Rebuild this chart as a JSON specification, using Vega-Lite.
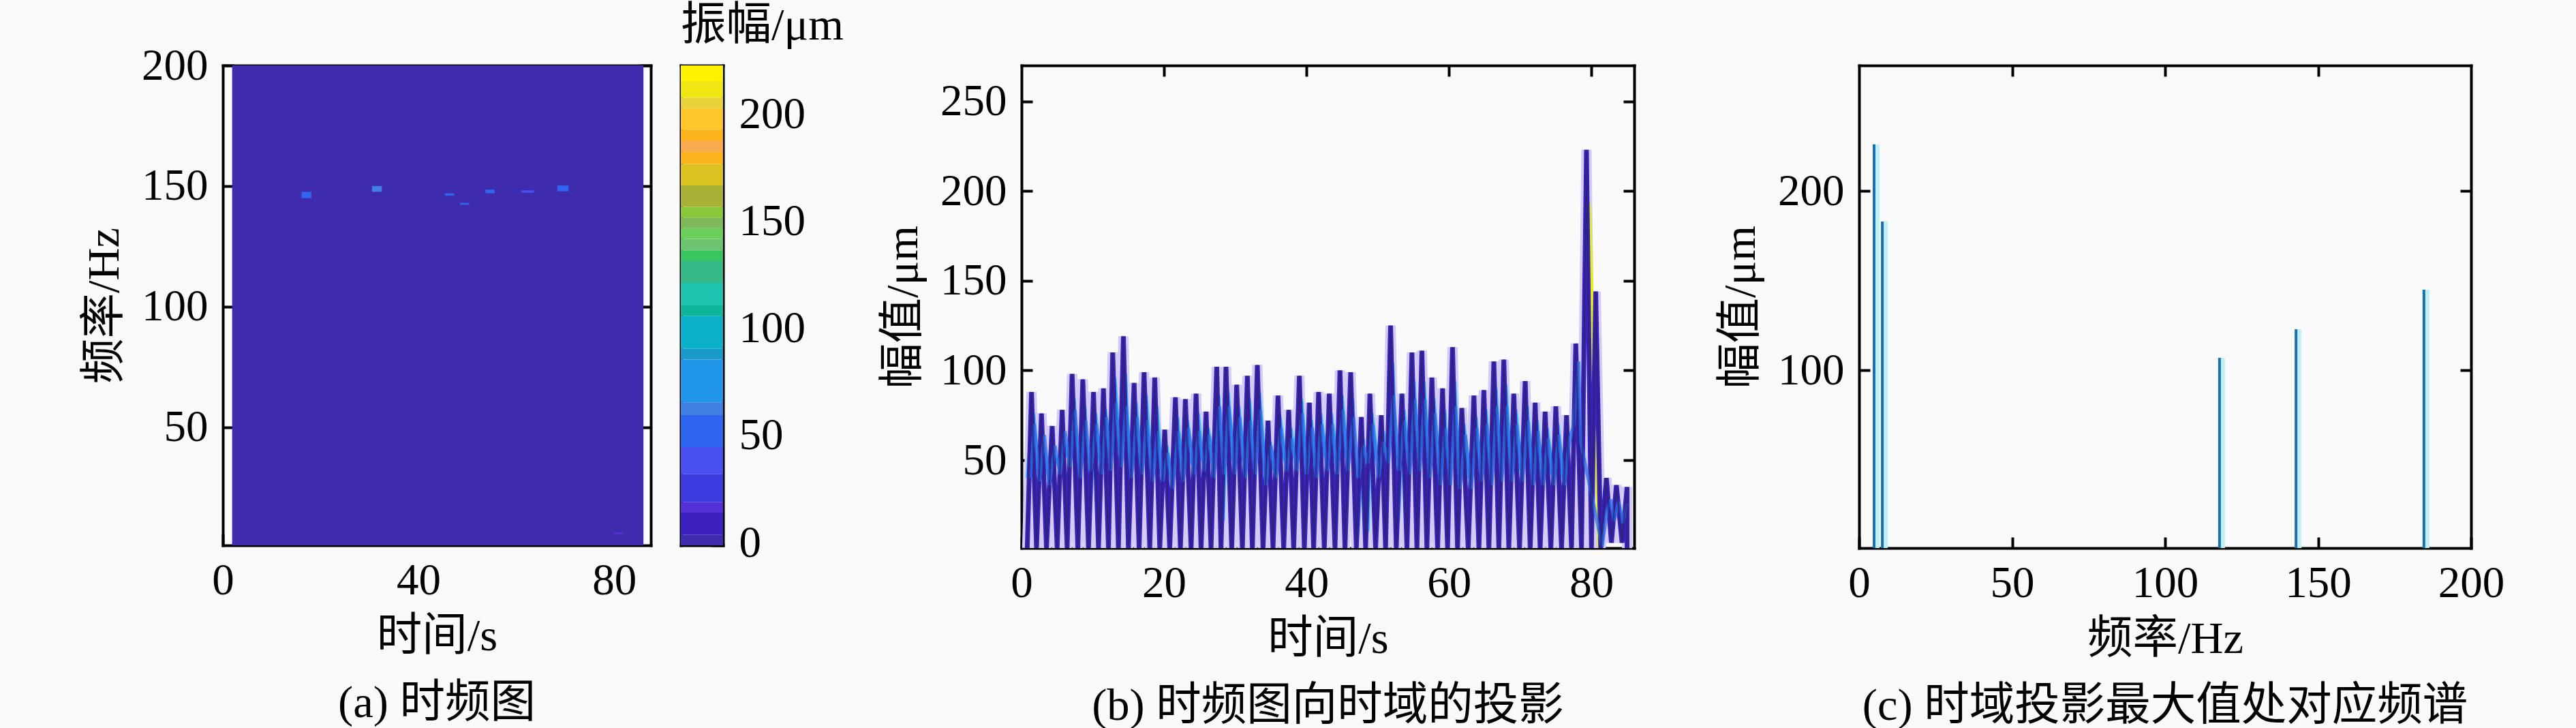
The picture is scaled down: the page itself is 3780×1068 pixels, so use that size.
{"$schema":"https://vega.github.io/schema/vega-lite/v6.json","background":"#fafafa","padding":{"left":120,"top":4,"right":170,"bottom":40},"bounds":"flush","spacing":44,"config":{"view":{"stroke":null},"axis":{"grid":false,"domainColor":"#000","domainWidth":4,"domainCap":"square","tickColor":"#000","tickWidth":4,"tickSize":-16,"labelFont":"Liberation Serif","labelFontSize":65,"labelColor":"#000","labelFlush":false,"labelOverlap":false,"labelBound":false,"titleFont":"Liberation Serif, Noto Sans CJK SC","titleFontSize":66.5,"titleFontWeight":"normal","titleColor":"#000","zindex":1},"title":{"font":"Liberation Serif, Noto Sans CJK SC","fontSize":66.5,"fontWeight":"normal","color":"#000"}},"datasets":{"cells":[{"t0":1.9,"t1":86,"f0":1,"f1":200,"amp":2},{"t0":16.1,"t1":18.1,"f0":145,"f1":147.6,"amp":46},{"t0":30.5,"t1":32.5,"f0":147.6,"f1":150,"amp":64},{"t0":45.4,"t1":47.3,"f0":146,"f1":147,"amp":46},{"t0":48.5,"t1":50.4,"f0":142.2,"f1":143,"amp":46},{"t0":53.7,"t1":55.6,"f0":147,"f1":148.5,"amp":46},{"t0":61,"t1":63.6,"f0":147.2,"f1":148.2,"amp":40},{"t0":68.4,"t1":70.7,"f0":147.8,"f1":150.2,"amp":55},{"t0":79.9,"t1":81.8,"f0":5.6,"f1":6.4,"amp":18}],"bar":[{"lo":0,"hi":5},{"lo":5,"hi":15.3},{"lo":15.3,"hi":20.3},{"lo":20.3,"hi":33.3},{"lo":33.3,"hi":45.8},{"lo":45.8,"hi":60.8},{"lo":60.8,"hi":66.7},{"lo":66.7,"hi":86.7},{"lo":86.7,"hi":91.7},{"lo":91.7,"hi":107},{"lo":107,"hi":112},{"lo":112,"hi":122.5},{"lo":122.5,"hi":132.7},{"lo":132.7,"hi":137.7},{"lo":137.7,"hi":143},{"lo":143,"hi":148},{"lo":148,"hi":153},{"lo":153,"hi":158},{"lo":158,"hi":168},{"lo":168,"hi":178},{"lo":178,"hi":183.7},{"lo":183.7,"hi":188.7},{"lo":188.7,"hi":194},{"lo":194,"hi":204},{"lo":204,"hi":209},{"lo":209,"hi":216.7},{"lo":216.7,"hi":224}],"main":[{"t":0.8,"a":1},{"t":1.4,"a":88},{"t":2.1,"a":1},{"t":2.8,"a":76},{"t":3.5,"a":1},{"t":4.3,"a":69},{"t":5,"a":1},{"t":5.7,"a":78},{"t":6.4,"a":1},{"t":7.1,"a":98},{"t":7.9,"a":1},{"t":8.6,"a":95},{"t":9.4,"a":1},{"t":10.1,"a":88},{"t":10.8,"a":1},{"t":11.5,"a":90},{"t":12.2,"a":1},{"t":12.8,"a":110},{"t":13.6,"a":1},{"t":14.3,"a":119},{"t":15,"a":1},{"t":15.8,"a":93},{"t":16.5,"a":1},{"t":17.2,"a":99},{"t":18,"a":1},{"t":18.7,"a":96},{"t":19.4,"a":1},{"t":20.1,"a":67},{"t":20.8,"a":1},{"t":21.6,"a":85},{"t":22.3,"a":1},{"t":23,"a":84},{"t":23.8,"a":1},{"t":24.5,"a":87},{"t":25.2,"a":1},{"t":25.9,"a":77},{"t":26.6,"a":1},{"t":27.4,"a":102},{"t":28,"a":1},{"t":28.7,"a":102},{"t":29.5,"a":1},{"t":30.2,"a":92},{"t":31,"a":1},{"t":31.7,"a":97},{"t":32.4,"a":1},{"t":33.1,"a":103},{"t":33.9,"a":1},{"t":34.6,"a":72},{"t":35.3,"a":1},{"t":36,"a":86},{"t":36.8,"a":1},{"t":37.5,"a":78},{"t":38.2,"a":1},{"t":39,"a":97},{"t":39.7,"a":1},{"t":40.4,"a":82},{"t":41,"a":1},{"t":41.7,"a":88},{"t":42.5,"a":1},{"t":43.2,"a":87},{"t":44,"a":1},{"t":44.7,"a":100},{"t":45.4,"a":1},{"t":46.2,"a":99},{"t":47,"a":1},{"t":47.7,"a":74},{"t":48.3,"a":1},{"t":48.9,"a":87},{"t":49.7,"a":1},{"t":50.5,"a":75},{"t":51.1,"a":1},{"t":51.8,"a":125},{"t":52.6,"a":1},{"t":53.4,"a":87},{"t":54.1,"a":1},{"t":54.8,"a":110},{"t":55.5,"a":1},{"t":56.2,"a":111},{"t":56.9,"a":1},{"t":57.6,"a":96},{"t":58.4,"a":1},{"t":59.1,"a":90},{"t":59.8,"a":1},{"t":60.5,"a":113},{"t":61.2,"a":1},{"t":61.8,"a":79},{"t":62.7,"a":1},{"t":63.5,"a":86},{"t":64.2,"a":1},{"t":64.9,"a":89},{"t":65.6,"a":1},{"t":66.3,"a":105},{"t":67,"a":1},{"t":67.7,"a":106},{"t":68.4,"a":1},{"t":69.1,"a":87},{"t":69.9,"a":1},{"t":70.7,"a":94},{"t":71.4,"a":1},{"t":72.1,"a":82},{"t":72.8,"a":1},{"t":73.5,"a":77},{"t":74.3,"a":1},{"t":75,"a":80},{"t":75.8,"a":1},{"t":76.5,"a":75},{"t":77.2,"a":1},{"t":77.8,"a":115},{"t":78.6,"a":1},{"t":79.3,"a":223},{"t":80,"a":1},{"t":80.6,"a":144},{"t":81.3,"a":1},{"t":82.1,"a":40},{"t":82.8,"a":4},{"t":83.5,"a":36},{"t":84.3,"a":4},{"t":85,"a":35},{"t":85,"a":1}],"blue":[{"t":1.2,"a":40},{"t":1.8,"a":70},{"t":2.5,"a":38},{"t":3.2,"a":64},{"t":3.9,"a":36},{"t":4.7,"a":58},{"t":5.4,"a":42},{"t":6.1,"a":66},{"t":6.8,"a":46},{"t":7.5,"a":78},{"t":8.2,"a":40},{"t":9,"a":72},{"t":9.7,"a":44},{"t":10.5,"a":70},{"t":11.2,"a":42},{"t":11.9,"a":74},{"t":12.5,"a":44},{"t":13.2,"a":82},{"t":14,"a":46},{"t":14.7,"a":80},{"t":15.4,"a":40},{"t":16.2,"a":74},{"t":16.9,"a":42},{"t":17.6,"a":72},{"t":18.4,"a":38},{"t":19.1,"a":66},{"t":19.8,"a":38},{"t":20.5,"a":54},{"t":21.2,"a":34},{"t":22,"a":66},{"t":22.7,"a":38},{"t":23.4,"a":68},{"t":24.2,"a":42},{"t":24.9,"a":66},{"t":25.6,"a":44},{"t":26.3,"a":64},{"t":27,"a":40},{"t":27.8,"a":80},{"t":28.4,"a":42},{"t":29.1,"a":80},{"t":29.9,"a":42},{"t":30.6,"a":74},{"t":31.4,"a":40},{"t":32.1,"a":72},{"t":32.8,"a":42},{"t":33.5,"a":78},{"t":34.3,"a":36},{"t":35,"a":58},{"t":35.7,"a":40},{"t":36.4,"a":68},{"t":37.2,"a":44},{"t":37.9,"a":62},{"t":38.6,"a":44},{"t":39.4,"a":76},{"t":40,"a":42},{"t":40.8,"a":68},{"t":41.4,"a":40},{"t":42.1,"a":70},{"t":42.9,"a":44},{"t":43.6,"a":70},{"t":44.3,"a":42},{"t":45.1,"a":78},{"t":45.8,"a":44},{"t":46.6,"a":74},{"t":47.3,"a":40},{"t":48,"a":58},{"t":48.6,"a":48},{"t":49.3,"a":70},{"t":50.1,"a":40},{"t":50.8,"a":60},{"t":51.5,"a":48},{"t":52.2,"a":86},{"t":53,"a":44},{"t":53.7,"a":72},{"t":54.5,"a":42},{"t":55.2,"a":84},{"t":55.9,"a":44},{"t":56.6,"a":84},{"t":57.3,"a":40},{"t":58,"a":76},{"t":58.8,"a":36},{"t":59.5,"a":68},{"t":60.2,"a":36},{"t":60.9,"a":80},{"t":61.5,"a":34},{"t":62.3,"a":64},{"t":63.1,"a":34},{"t":63.9,"a":68},{"t":64.6,"a":38},{"t":65.3,"a":70},{"t":66,"a":36},{"t":66.7,"a":80},{"t":67.4,"a":38},{"t":68.1,"a":80},{"t":68.8,"a":38},{"t":69.5,"a":70},{"t":70.3,"a":38},{"t":71.1,"a":72},{"t":71.8,"a":36},{"t":72.5,"a":66},{"t":73.2,"a":36},{"t":73.9,"a":62},{"t":74.7,"a":36},{"t":75.4,"a":64},{"t":76.2,"a":36},{"t":76.9,"a":60},{"t":77.5,"a":70},{"t":78.2,"a":105},{"t":78.5,"a":60},{"t":81.5,"a":2},{"t":82.2,"a":22},{"t":82.7,"a":28},{"t":83.2,"a":16},{"t":83.8,"a":27},{"t":84.4,"a":15},{"t":85,"a":26}],"cyan":[{"t":0.9,"a":40},{"t":1.6,"a":76},{"t":2.3,"a":44},{"t":3,"a":58},{"t":3.7,"a":44},{"t":4.5,"a":52},{"t":5.2,"a":48},{"t":5.9,"a":60},{"t":6.6,"a":52},{"t":7.3,"a":84},{"t":8,"a":34},{"t":8.8,"a":80},{"t":9.5,"a":18},{"t":10.3,"a":76},{"t":11,"a":50},{"t":11.7,"a":78},{"t":12.4,"a":52},{"t":13,"a":96},{"t":13.8,"a":52},{"t":14.5,"a":98},{"t":15.2,"a":36},{"t":16,"a":82},{"t":16.7,"a":46},{"t":17.4,"a":86},{"t":18.2,"a":44},{"t":18.9,"a":80},{"t":19.6,"a":44},{"t":20.3,"a":58},{"t":21,"a":40},{"t":21.8,"a":74},{"t":22.5,"a":46},{"t":23.2,"a":72},{"t":24,"a":48},{"t":24.7,"a":76},{"t":25.4,"a":50},{"t":26.1,"a":68},{"t":26.8,"a":50},{"t":27.6,"a":86},{"t":28.2,"a":16},{"t":28.9,"a":88},{"t":29.7,"a":50},{"t":30.4,"a":80},{"t":31.2,"a":50},{"t":31.9,"a":84},{"t":32.6,"a":50},{"t":33.3,"a":88},{"t":34.1,"a":44},{"t":34.8,"a":60},{"t":35.5,"a":44},{"t":36.2,"a":74},{"t":37,"a":50},{"t":37.7,"a":68},{"t":38.4,"a":52},{"t":39.2,"a":84},{"t":39.9,"a":50},{"t":40.6,"a":72},{"t":41.2,"a":46},{"t":41.9,"a":76},{"t":42.7,"a":52},{"t":43.4,"a":76},{"t":44.2,"a":50},{"t":44.9,"a":86},{"t":45.6,"a":52},{"t":46.4,"a":84},{"t":47.1,"a":8},{"t":47.9,"a":62},{"t":48.5,"a":10},{"t":49.1,"a":76},{"t":49.9,"a":50},{"t":50.7,"a":66},{"t":51.3,"a":50},{"t":52,"a":104},{"t":52.8,"a":16},{"t":53.6,"a":78},{"t":54.3,"a":52},{"t":55,"a":94},{"t":55.7,"a":46},{"t":56.4,"a":94},{"t":57.1,"a":50},{"t":57.8,"a":84},{"t":58.6,"a":44},{"t":59.3,"a":78},{"t":60,"a":40},{"t":60.7,"a":94},{"t":61.4,"a":42},{"t":62,"a":70},{"t":62.9,"a":40},{"t":63.7,"a":74},{"t":64.4,"a":44},{"t":65.1,"a":78},{"t":65.8,"a":42},{"t":66.5,"a":90},{"t":67.2,"a":42},{"t":67.9,"a":92},{"t":68.6,"a":44},{"t":69.3,"a":78},{"t":70.1,"a":44},{"t":70.9,"a":80},{"t":71.6,"a":40},{"t":72.3,"a":72},{"t":73,"a":40},{"t":73.7,"a":68},{"t":74.5,"a":42},{"t":75.2,"a":70},{"t":76,"a":40},{"t":76.7,"a":66}],"yellow":[{"t":79.2,"a":200},{"t":79.7,"a":190},{"t":80.3,"a":100},{"t":81.1,"a":2},{"t":81.4,"a":1}],"spec":[{"f":4.9,"a":226},{"f":7.6,"a":183},{"f":117.8,"a":107},{"f":142.8,"a":123},{"f":184.6,"a":145}],"blank":[{"n":0}]},"hconcat":[{"width":628,"height":704,"title":{"text":"(a) 时频图","orient":"bottom","anchor":"middle","offset":32},"view":{"fill":"#ffffff"},"layer":[{"data":{"name":"cells"},"mark":{"type":"rect","clip":true},"encoding":{"x":{"field":"t0","type":"quantitative","scale":{"domain":[0,87.5],"nice":false},"axis":{"title":"时间/s","values":[0,40,80],"titlePadding":16,"labelPadding":36}},"x2":{"field":"t1"},"y":{"field":"f0","type":"quantitative","scale":{"domain":[1,200],"nice":false},"axis":{"title":"频率/Hz","values":[50,100,150,200],"titlePadding":20,"labelPadding":38}},"y2":{"field":"f1"},"color":{"field":"amp","type":"quantitative","legend":null,"scale":{"type":"threshold","domain":[5,15.3,20.3,33.3,45.8,60.8,66.7,86.7,91.7,107,112,122.5,132.7,137.7,143,148,153,158,168,178,183.7,188.7,194,204,209,216.7],"range":["#3F2BAD","#3E20C0","#5530D8","#3B3CE0","#4A50F0","#2E66F0","#3F80E0","#2195E8","#1A9AC8","#0BAFC8","#0FB49A","#1EC4B0","#36B888","#38C45E","#6CC46E","#6CCE5A","#7DB85A","#88C83A","#A8B035","#DAC320","#FBB41C","#F9A94F","#FBB41C","#FFC72C","#E8D43A","#F0E614","#FFF200"]}}}},{"data":{"name":"cells"},"transform":[{"filter":"datum.amp>5"}],"mark":{"type":"rect","clip":true,"opacity":0},"encoding":{"x":{"field":"t0","type":"quantitative","axis":{"orient":"top","labels":false,"title":null,"values":[40,80]}},"x2":{"field":"t1"},"y":{"field":"f0","type":"quantitative","axis":{"orient":"right","labels":false,"title":null,"values":[50,100,150,200]}},"y2":{"field":"f1"}}}],"resolve":{"axis":{"x":"independent","y":"independent"}}},{"width":62,"height":704,"title":{"text":"振幅/μm","orient":"top","anchor":"start","frame":"group","offset":25},"layer":[{"data":{"name":"bar"},"mark":{"type":"rect"},"encoding":{"x":{"datum":0,"type":"quantitative","scale":{"domain":[0,1],"nice":false},"axis":{"orient":"bottom","title":null,"labels":false,"ticks":false}},"x2":{"datum":1},"y":{"field":"lo","type":"quantitative","scale":{"domain":[0,224],"nice":false},"axis":{"orient":"right","title":null,"values":[0,50,100,150,200],"tickSize":-18,"labelPadding":41,"labelOffset":-4}},"y2":{"field":"hi"},"color":{"field":"lo","type":"quantitative","legend":null,"scale":{"type":"threshold","domain":[5,15.3,20.3,33.3,45.8,60.8,66.7,86.7,91.7,107,112,122.5,132.7,137.7,143,148,153,158,168,178,183.7,188.7,194,204,209,216.7],"range":["#3F2BAD","#3E20C0","#5530D8","#3B3CE0","#4A50F0","#2E66F0","#3F80E0","#2195E8","#1A9AC8","#0BAFC8","#0FB49A","#1EC4B0","#36B888","#38C45E","#6CC46E","#6CCE5A","#7DB85A","#88C83A","#A8B035","#DAC320","#FBB41C","#F9A94F","#FBB41C","#FFC72C","#E8D43A","#F0E614","#FFF200"]}}}},{"data":{"name":"bar"},"mark":{"type":"rect","opacity":0},"encoding":{"x":{"datum":0,"type":"quantitative","axis":{"orient":"top","title":null,"labels":false,"ticks":false}},"x2":{"datum":1},"y":{"field":"lo","type":"quantitative","axis":{"orient":"left","title":null,"labels":false,"ticks":false}},"y2":{"field":"hi"}}}],"resolve":{"axis":{"x":"independent","y":"independent"}}},{"width":350,"height":704,"data":{"name":"blank"},"mark":{"type":"text","text":""}},{"width":899,"height":708,"title":{"text":"(b) 时频图向时域的投影","orient":"bottom","anchor":"middle","offset":32},"layer":[{"data":{"name":"main"},"mark":{"type":"line","clip":true,"color":"#D2CCF6","strokeWidth":15},"encoding":{"x":{"field":"t","type":"quantitative","sort":null,"scale":{"domain":[0,86],"nice":false},"axis":{"title":"时间/s","values":[0,20,40,60,80],"titlePadding":16,"labelPadding":36}},"y":{"field":"a","type":"quantitative","scale":{"domain":[1,270],"nice":false},"axis":{"title":"幅值/μm","values":[50,100,150,200,250],"titlePadding":20,"labelPadding":38}}}},{"data":{"name":"yellow"},"mark":{"type":"line","clip":true,"color":"#E4EE20","strokeWidth":6},"encoding":{"x":{"field":"t","type":"quantitative","axis":null},"y":{"field":"a","type":"quantitative","axis":null}}},{"data":{"name":"cyan"},"mark":{"type":"line","clip":true,"color":"#3CC4EE","strokeWidth":7},"encoding":{"x":{"field":"t","type":"quantitative","axis":null},"y":{"field":"a","type":"quantitative","axis":null}}},{"data":{"name":"main"},"mark":{"type":"line","clip":true,"color":"#3A22B8","strokeWidth":7},"encoding":{"x":{"field":"t","type":"quantitative","sort":null,"axis":null},"y":{"field":"a","type":"quantitative","axis":null}}},{"data":{"name":"blue"},"mark":{"type":"line","clip":true,"color":"#2A6FE8","strokeWidth":5,"opacity":0.75},"encoding":{"x":{"field":"t","type":"quantitative","axis":null},"y":{"field":"a","type":"quantitative","axis":null}}},{"data":{"name":"main"},"mark":{"type":"line","clip":true,"color":"#2A2270","strokeWidth":2.5,"opacity":0.7},"encoding":{"x":{"field":"t","type":"quantitative","sort":null,"axis":{"orient":"top","labels":false,"title":null,"values":[20,40,60,80]}},"y":{"field":"a","type":"quantitative","axis":{"orient":"right","labels":false,"title":null,"values":[50,100,150,200,250]}}}}],"resolve":{"axis":{"x":"independent","y":"independent"}}},{"width":242,"height":704,"data":{"name":"blank"},"mark":{"type":"text","text":""}},{"width":898,"height":708,"title":{"text":"(c) 时域投影最大值处对应频谱","orient":"bottom","anchor":"middle","offset":32},"layer":[{"data":{"name":"spec"},"mark":{"type":"rule","clip":true,"color":"#BFF0FA","strokeWidth":10,"xOffset":3},"encoding":{"x":{"field":"f","type":"quantitative","scale":{"domain":[0,200],"nice":false},"axis":{"title":"频率/Hz","values":[0,50,100,150,200],"titlePadding":16,"labelPadding":36}},"y":{"field":"a","type":"quantitative","scale":{"domain":[1,270],"nice":false},"axis":{"title":"幅值/μm","values":[100,200],"titlePadding":20,"labelPadding":38}},"y2":{"datum":1}}},{"data":{"name":"spec"},"mark":{"type":"rule","clip":true,"color":"#1F6FA8","strokeWidth":4},"encoding":{"x":{"field":"f","type":"quantitative","axis":{"orient":"top","labels":false,"title":null,"values":[50,100,150]}},"y":{"field":"a","type":"quantitative","axis":{"orient":"right","labels":false,"title":null,"values":[100,200]}},"y2":{"datum":1}}}],"resolve":{"axis":{"x":"independent","y":"independent"}}}]}
